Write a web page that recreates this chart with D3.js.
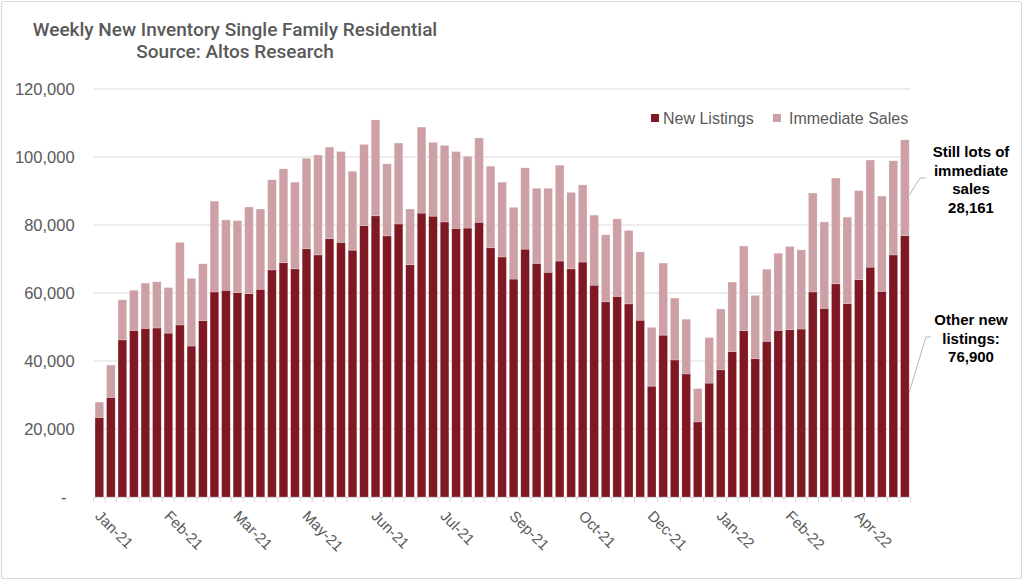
<!DOCTYPE html>
<html><head><meta charset="utf-8">
<script src="https://cdn.jsdelivr.net/npm/d3@7"></script>
<style>
body{margin:0;background:#fff;}
svg{display:block;font-family:"Liberation Sans",Arial,sans-serif;}
</style></head>
<body><svg id="c" width="1024" height="581"></svg>
<script>
// ---- data ----
const weeks = ["2021-01-01","2021-01-08","2021-01-15","2021-01-22","2021-01-29","2021-02-05","2021-02-12","2021-02-19","2021-02-26","2021-03-05","2021-03-12","2021-03-19","2021-03-26","2021-04-02","2021-04-09","2021-04-16","2021-04-23","2021-04-30","2021-05-07","2021-05-14","2021-05-21","2021-05-28","2021-06-04","2021-06-11","2021-06-18","2021-06-25","2021-07-02","2021-07-09","2021-07-16","2021-07-23","2021-07-30","2021-08-06","2021-08-13","2021-08-20","2021-08-27","2021-09-03","2021-09-10","2021-09-17","2021-09-24","2021-10-01","2021-10-08","2021-10-15","2021-10-22","2021-10-29","2021-11-05","2021-11-12","2021-11-19","2021-11-26","2021-12-03","2021-12-10","2021-12-17","2021-12-24","2021-12-31","2022-01-07","2022-01-14","2022-01-21","2022-01-28","2022-02-04","2022-02-11","2022-02-18","2022-02-25","2022-03-04","2022-03-11","2022-03-18","2022-03-25","2022-04-01","2022-04-08","2022-04-15","2022-04-22","2022-04-29","2022-05-06"];
const newListings = [23400,29300,46200,49000,49600,49700,48200,50600,44400,51900,60300,60800,60100,59800,61100,66800,68900,67100,73000,71200,76000,74900,72600,79800,82700,76800,80300,68300,83500,82600,80900,79000,79100,80800,73300,70600,64100,72900,68700,66100,69400,67100,69100,62300,57400,59000,56800,52000,32600,47600,40300,36200,22100,33500,37400,42800,48900,40700,45800,49000,49200,49400,60300,55500,62700,56900,63900,67600,60500,71200,76900];
const immediateSales = [4500,9500,11800,11800,13300,13600,13400,24300,19900,16700,26700,20700,21200,25500,23600,26500,27600,25500,26600,29400,26900,26700,23200,23900,28200,21200,23800,16400,25300,21700,22500,22600,21100,24800,24000,22000,21100,23900,22100,24700,28200,22500,22700,20600,19700,22800,21600,20100,17300,21200,18200,16100,9800,13400,17900,20400,24900,18600,21200,22700,24500,23300,29100,25400,31100,25400,26200,31500,28000,27700,28161];
const seriesNames = ["New Listings","Immediate Sales"];
const yTicks = [0,20000,40000,60000,80000,100000,120000];
const labelEvery = 6;
const titleLines = ["Weekly New Inventory Single Family Residential","Source: Altos Research"];
const noteTop = ["Still lots of","immediate","sales","28,161"];
const noteBottom = ["Other new","listings:","76,900"];

// ---- chart ----
const colors = ["#7f1822","#cda0a6"];
const svg = d3.select("#c");
const W = 1024, H = 581;
const plot = {left:93.6, right:910.6, top:89, bottom:497};

svg.append("rect").attr("x",1.5).attr("y",1.5).attr("width",W-4).attr("height",H-4)
  .attr("fill","#fff").attr("stroke","#d9d9d9").attr("stroke-width",1.2).attr("rx",2);

const parse = d3.timeParse("%Y-%m-%d");
const fmt = d3.timeFormat("%b-%y");

const x = d3.scaleBand().domain(weeks).range([plot.left, plot.right]).paddingInner(0.25).paddingOuter(0.125);
const y = d3.scaleLinear().domain([0,120000]).range([plot.bottom, plot.top]);

// gridlines
svg.append("g").selectAll("line").data(yTicks.filter(d=>d>0)).join("line")
  .attr("x1",plot.left).attr("x2",plot.right)
  .attr("y1",d=>y(d)).attr("y2",d=>y(d))
  .attr("stroke","#d9d9d9").attr("stroke-width",1);

// y axis labels
const yAxis = d3.axisLeft(y).tickValues(yTicks).tickSize(0).tickPadding(19)
  .tickFormat(d => d===0 ? "-" : d3.format(",")(d));
const ya = svg.append("g").attr("transform",`translate(${plot.left},0)`).call(yAxis);
ya.select(".domain").remove();
ya.selectAll("text").attr("fill","#595959").style("font-size","16.5px")
  .attr("dx", d => d===0 ? -8 : 0);

// stacked bars
const stackData = weeks.map((w,i)=>({w, a:newListings[i], b:immediateSales[i]}));
const stack = d3.stack().keys(["a","b"])(stackData);
svg.append("g").selectAll("g").data(stack).join("g")
  .attr("fill",(d,i)=>colors[i])
  .selectAll("rect").data(d=>d).join("rect")
  .attr("x",d=>x(d.data.w)).attr("width",x.bandwidth())
  .attr("y",d=>y(d[1])).attr("height",d=>y(d[0])-y(d[1]))
  .attr("stroke","#fff").attr("stroke-opacity",0.35).attr("stroke-width",0.6);

// x axis
svg.append("line").attr("x1",plot.left).attr("x2",plot.right)
  .attr("y1",plot.bottom+0.5).attr("y2",plot.bottom+0.5).attr("stroke","#d9d9d9");
const step = x.step();
const bounds = weeks.map(w => x(w) - step*x.paddingInner()/2).concat([x(weeks[weeks.length-1]) + x.bandwidth() + step*x.paddingInner()/2]);
svg.append("g").selectAll("line").data(bounds).join("line")
  .attr("x1",d=>d).attr("x2",d=>d).attr("y1",plot.bottom).attr("y2",plot.bottom+5)
  .attr("stroke","#d9d9d9");
svg.append("g").selectAll("text").data(weeks.filter((w,i)=>i%labelEvery===0)).join("text")
  .attr("transform",w=>`translate(${x(w)+x.bandwidth()/2-5},${plot.bottom+20}) rotate(45)`)
  .attr("fill","#595959").style("font-size","15px")
  .text(w=>fmt(parse(w)));

// title
svg.append("g").selectAll("text").data(titleLines).join("text")
  .attr("x",235).attr("y",(d,i)=>36+i*22).attr("text-anchor","middle")
  .attr("fill","#595959").style("font-family","Roboto, sans-serif").style("font-size","19px").style("font-weight","500")
  .text(d=>d);

// legend
const leg = [{x:651,tx:663},{x:773,tx:789}];
seriesNames.forEach((n,i)=>{
  svg.append("rect").attr("x",leg[i].x).attr("y",114).attr("width",8).attr("height",8).attr("fill",colors[i]);
  svg.append("text").attr("x",leg[i].tx).attr("y",124).attr("fill","#595959").style("font-size","16px").text(n);
});

// annotations
const ann = svg.append("g").attr("fill","#000").style("font-size","15px").style("font-weight","bold").attr("text-anchor","middle");
ann.selectAll("text.t").data(noteTop).join("text").attr("class","t")
  .attr("x",971).attr("y",(d,i)=>157+i*18.5).text(d=>d);
ann.selectAll("text.b").data(noteBottom).join("text").attr("class","b")
  .attr("x",971).attr("y",(d,i)=>325+i*18.5).text(d=>d);
const last = weeks.length-1;
const lx = x(weeks[last])+x.bandwidth();
const line = d3.line();
svg.append("path").attr("d",line([[lx, y(newListings[last]+immediateSales[last]*0.42)],[920,178],[926,178]]))
  .attr("fill","none").attr("stroke","#a6a6a6").attr("stroke-width",0.8);
svg.append("path").attr("d",line([[lx, y(newListings[last]*0.4)],[926,337],[931,337]]))
  .attr("fill","none").attr("stroke","#a6a6a6").attr("stroke-width",0.8);
</script></body></html>
